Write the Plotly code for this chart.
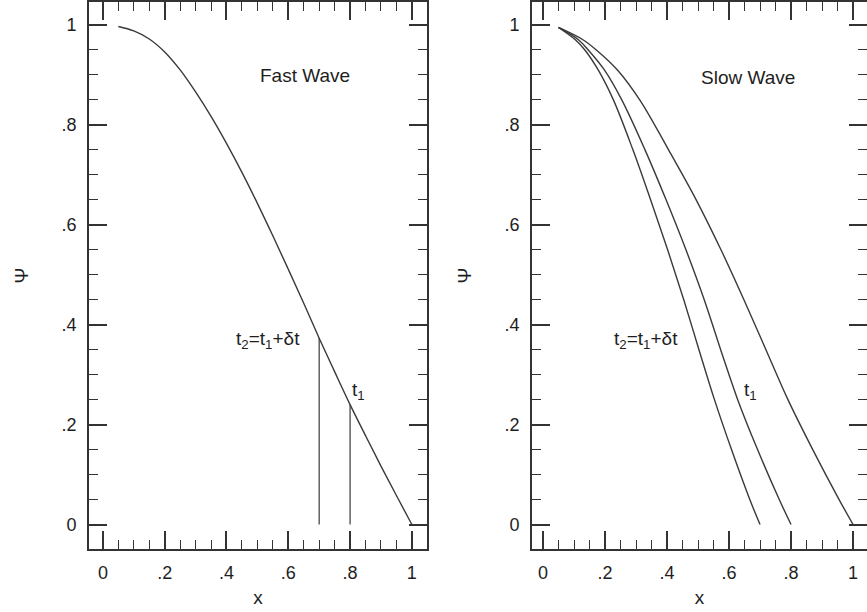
import plotly.graph_objects as go

# ---- data ----
tick_vals = [0, 0.2, 0.4, 0.6, 0.8, 1.0]
tick_text = ["0", ".2", ".4", ".6", ".8", "1"]

# Left panel: Fast Wave
fast_x = [0.05, 0.10, 0.15, 0.20, 0.25, 0.30, 0.35, 0.40, 0.45, 0.50,
          0.55, 0.60, 0.65, 0.70, 0.75, 0.80, 0.85, 0.90, 0.95, 1.00]
fast_y = [0.997, 0.988, 0.972, 0.946, 0.910, 0.866, 0.817, 0.763, 0.705, 0.643,
          0.578, 0.511, 0.443, 0.373, 0.306, 0.240, 0.178, 0.117, 0.058, 0.0]
# vertical markers at t2 and t1
marker_x = [0.70, 0.80]
marker_top = [0.373, 0.240]

# Right panel: Slow Wave (three profiles, same psi levels)
slow_y = [0.995, 0.97, 0.95, 0.91, 0.85, 0.75, 0.65, 0.55, 0.45, 0.35,
          0.25, 0.15, 0.05, 0.0]
slowA_x = [0.05, 0.105, 0.135, 0.178, 0.227, 0.290, 0.347, 0.402, 0.454, 0.503,
           0.553, 0.608, 0.667, 0.70]
slowB_x = [0.05, 0.115, 0.146, 0.198, 0.254, 0.329, 0.397, 0.461, 0.520, 0.573,
           0.628, 0.692, 0.762, 0.80]
slowC_x = [0.05, 0.130, 0.172, 0.240, 0.312, 0.405, 0.494, 0.574, 0.648, 0.719,
           0.790, 0.870, 0.955, 1.00]

LINE = "#3a3a3a"
TXT = "#1e1e1e"
FONT = "Liberation Sans, Arial, sans-serif"

fig = go.Figure()
line_style = dict(color=LINE, width=1.4, shape="spline", smoothing=1.0)

fig.add_trace(go.Scatter(x=fast_x, y=fast_y, mode="lines", line=line_style,
                         xaxis="x", yaxis="y", showlegend=False, hoverinfo="skip"))
for mx, mt in zip(marker_x, marker_top):
    fig.add_trace(go.Scatter(x=[mx, mx], y=[0, mt], mode="lines",
                             line=dict(color=LINE, width=1.2),
                             xaxis="x", yaxis="y", showlegend=False, hoverinfo="skip"))
for sx in (slowA_x, slowB_x, slowC_x):
    fig.add_trace(go.Scatter(x=sx, y=slow_y, mode="lines", line=line_style,
                             xaxis="x2", yaxis="y2", showlegend=False, hoverinfo="skip"))

def xaxis(domain, rng, anchor):
    return dict(domain=domain, range=rng, anchor=anchor,
                tickmode="array", tickvals=tick_vals, ticktext=tick_text,
                ticks="inside", ticklen=18, tickwidth=1.5, tickcolor="#333",
                minor=dict(ticks="inside", ticklen=9, tickwidth=1.3, tickcolor="#333",
                           dtick=0.05, tick0=0, showgrid=False),
                showline=True, linewidth=2, linecolor="#333", mirror="allticks",
                showgrid=False, zeroline=False, automargin=False,
                ticklabelstandoff=6,
                tickfont=dict(family=FONT, size=18, color=TXT),
                title=dict(text="x", font=dict(family=FONT, size=19, color=TXT), standoff=9))

def yaxis(anchor):
    return dict(domain=[0, 1], range=[-0.049, 1.046], anchor=anchor,
                tickmode="array", tickvals=tick_vals, ticktext=tick_text,
                ticks="inside", ticklen=18, tickwidth=1.5, tickcolor="#333",
                minor=dict(ticks="inside", ticklen=9, tickwidth=1.3, tickcolor="#333",
                           dtick=0.05, tick0=0, showgrid=False),
                showline=True, linewidth=2, linecolor="#333", mirror="allticks",
                showgrid=False, zeroline=False, automargin=False,
                ticklabelstandoff=7,
                tickfont=dict(family=FONT, size=18, color=TXT),
                title=dict(text="Ψ", font=dict(family=FONT, size=19, color=TXT), standoff=28))

W, H = 867, 612
fig.update_layout(
    width=W, height=H,
    margin=dict(l=0, r=0, t=2, b=63),
    paper_bgcolor="white", plot_bgcolor="white",
    xaxis=xaxis([89 / W, 427 / W], [-0.045, 1.049], "y"),
    yaxis=yaxis("x"),
    xaxis2=xaxis([532 / W, 1.0], [-0.0355, 1.045], "y2"),
    yaxis2=yaxis("x2"),
)

ann_font = dict(family=FONT, size=19, color=TXT)
annotations = [
    dict(text="Fast Wave", x=0.654, y=0.898, xref="x", yref="y"),
    dict(text="t<sub>2</sub>=t<sub>1</sub>+δt", x=0.534, y=0.370, xref="x", yref="y"),
    dict(text="t<sub>1</sub>", x=0.828, y=0.268, xref="x", yref="y"),
    dict(text="Slow Wave", x=0.661, y=0.894, xref="x2", yref="y2"),
    dict(text="t<sub>2</sub>=t<sub>1</sub>+δt", x=0.332, y=0.370, xref="x2", yref="y2"),
    dict(text="t<sub>1</sub>", x=0.668, y=0.268, xref="x2", yref="y2"),
]
for a in annotations:
    fig.add_annotation(showarrow=False, font=ann_font, xanchor="center", yanchor="middle", **a)

fig.write_html("out.html",
               config={"displayModeBar": False},
               post_script="document.body.style.margin='0';document.body.style.overflow='hidden';")
